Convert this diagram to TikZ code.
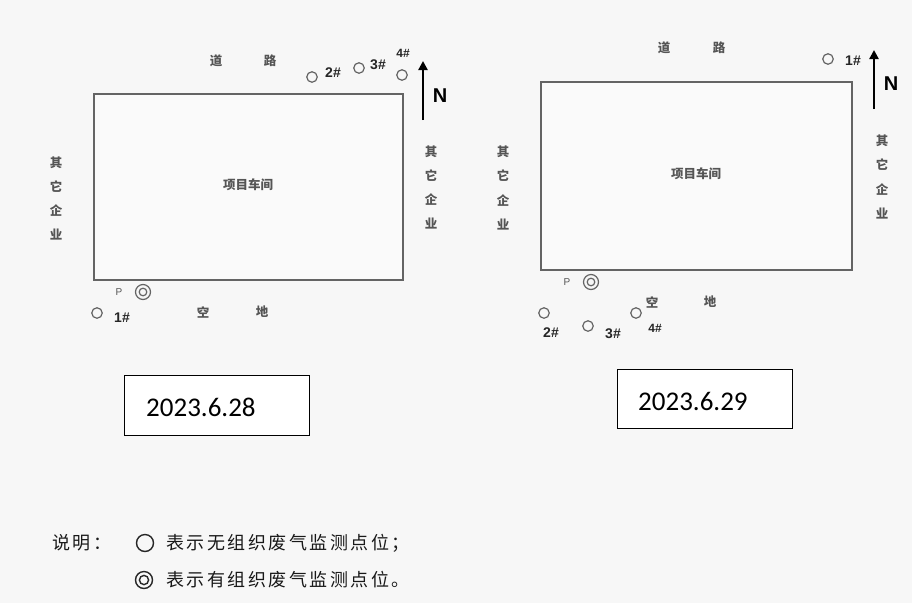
\documentclass[tikz,border=0pt]{standalone}
\usepackage{fontspec}
\newfontfamily\cjk{Noto Sans CJK SC}
\newfontfamily\dtfont{Carlito}
\newfontfamily\labfont{Liberation Sans}
\usetikzlibrary{arrows.meta}
\definecolor{bg}{RGB}{247,247,247}
\definecolor{inner}{RGB}{250,250,250}
\definecolor{ln}{RGB}{100,100,100}
\definecolor{tx}{RGB}{85,85,85}
\tikzset{
  x=1pt, y=-1pt,
  plant/.style={draw=ln, line width=1.5pt, fill=inner},
  cjktext/.style={font=\cjk\bfseries\fontsize{12.5}{14}\selectfont, text=tx, inner sep=0pt},
  pt/.style={circle, draw=ln, line width=1.2pt, minimum size=10.5pt, inner sep=0pt},
  dpt/.style={circle, draw=ln, line width=1.2pt, minimum size=15pt, inner sep=0pt,
    path picture={\draw[ln, line width=1.2pt] (path picture bounding box.center) circle (3.8pt);}},
  plab/.style={font=\labfont\bfseries\fontsize{14}{16}\selectfont, text=black!85, inner sep=0pt},
  ptxt/.style={font=\labfont\fontsize{10}{11}\selectfont, text=tx, inner sep=0pt},
  north/.style={-{Triangle[length=9pt,width=9pt]}, line width=2.6pt, black},
  nlab/.style={font=\labfont\bfseries\fontsize{20}{22}\selectfont, inner sep=0pt},
  datebox/.style={draw=black, line width=1.2pt, fill=white, anchor=north west},
  datetxt/.style={font=\dtfont\fontsize{27}{29}\selectfont, anchor=west, inner sep=0pt},
  legtxt/.style={font=\cjk\fontsize{18}{20}\selectfont\addfontfeature{LetterSpace=14}, text=black!90, anchor=west, inner sep=0pt},
  legpt/.style={circle, draw=black!85, line width=1.4pt, minimum size=17pt, inner sep=0pt},
  legdpt/.style={circle, draw=black!85, line width=1.4pt, minimum size=17pt, inner sep=0pt,
    path picture={\draw[black!85, line width=1.4pt] (path picture bounding box.center) circle (4.6pt);}}
}
\begin{document}
\begin{tikzpicture}
\fill[bg] (0,0) rectangle (912,603);
\useasboundingbox (0,0) rectangle (912,603);

% ---------- left diagram ----------
\node[plant, minimum width=309pt, minimum height=186pt, anchor=north west] (rectL) at (93,93) {};
\node[cjktext] (wsL) at (248,185) {项目车间};
\node[cjktext] (roadL1) at (216,61) {道};
\node[cjktext] (roadL2) at (270,61) {路};
\node[cjktext] (lqL1) at (56,163) {其};
\node[cjktext] (lqL2) at (56,187) {它};
\node[cjktext] (lqL3) at (56,211) {企};
\node[cjktext] (lqL4) at (56,235) {业};
\node[cjktext] (rqL1) at (431,152) {其};
\node[cjktext] (rqL2) at (431,176) {它};
\node[cjktext] (rqL3) at (431,200) {企};
\node[cjktext] (rqL4) at (431,224) {业};
\node[cjktext] (emL1) at (203,312) {空};
\node[cjktext] (emL2) at (262,312) {地};
\node[pt] (L1) at (97,313) {};
\node[plab] (L1t) at (122,318) {1\#};
\node[pt] (L2) at (312,77) {};
\node[plab] (L2t) at (333,73) {2\#};
\node[pt] (L3) at (359,68) {};
\node[plab] (L3t) at (378,65) {3\#};
\node[pt] (L4) at (402,75) {};
\node[plab, font=\labfont\bfseries\fontsize{12}{14}\selectfont] (L4t) at (403,53) {4\#};
\node[ptxt] (LPt) at (119,292) {P};
\node[dpt] (LP) at (143,292) {};
\coordinate (NLa) at (423,120);
\coordinate (NLb) at (423,61);
\draw[north] (NLa) -- (NLb);
\node[nlab] (NL) at (440,96) {N};

% ---------- right diagram ----------
\node[plant, minimum width=311pt, minimum height=188pt, anchor=north west] (rectR) at (540,81) {};
\node[cjktext] (wsR) at (696,174) {项目车间};
\node[cjktext] (roadR1) at (664,48) {道};
\node[cjktext] (roadR2) at (719,48) {路};
\node[cjktext] (lqR1) at (503,152) {其};
\node[cjktext] (lqR2) at (503,176) {它};
\node[cjktext] (lqR3) at (503,201) {企};
\node[cjktext] (lqR4) at (503,225) {业};
\node[cjktext] (rqR1) at (882,141) {其};
\node[cjktext] (rqR2) at (882,165) {它};
\node[cjktext] (rqR3) at (882,190) {企};
\node[cjktext] (rqR4) at (882,214) {业};
\node[cjktext] (emR1) at (652,302) {空};
\node[cjktext] (emR2) at (710,302) {地};
\node[pt] (R1) at (828,59) {};
\node[plab] (R1t) at (853,61) {1\#};
\node[pt] (R2) at (544,313) {};
\node[plab] (R2t) at (551,333) {2\#};
\node[pt] (R3) at (588,326) {};
\node[plab] (R3t) at (613,334) {3\#};
\node[pt] (R4) at (636,313) {};
\node[plab, font=\labfont\bfseries\fontsize{12}{14}\selectfont] (R4t) at (655,328) {4\#};
\node[ptxt] (RPt) at (567,282) {P};
\node[dpt] (RP) at (591,282) {};
\coordinate (NRa) at (874,109);
\coordinate (NRb) at (874,50);
\draw[north] (NRa) -- (NRb);
\node[nlab] (NR) at (891,84) {N};

% ---------- date boxes ----------
\node[datebox, minimum width=185pt, minimum height=60pt] (boxL) at (124,375) {};
\node[datetxt] (dateL) at (146,407) {2023.6.28};
\node[datebox, minimum width=175pt, minimum height=59pt] (boxR) at (617,369) {};
\node[datetxt] (dateR) at (638,401) {2023.6.29};

% ---------- legend ----------
\node[legtxt] (leg0) at (52,543) {说明：};
\node[legpt] (legc1) at (145,543) {};
\node[legtxt] (leg1) at (166,543) {表示无组织废气监测点位；};
\node[legdpt] (legc2) at (144,580) {};
\node[legtxt] (leg2) at (166,580) {表示有组织废气监测点位。};
\end{tikzpicture}
\end{document}
